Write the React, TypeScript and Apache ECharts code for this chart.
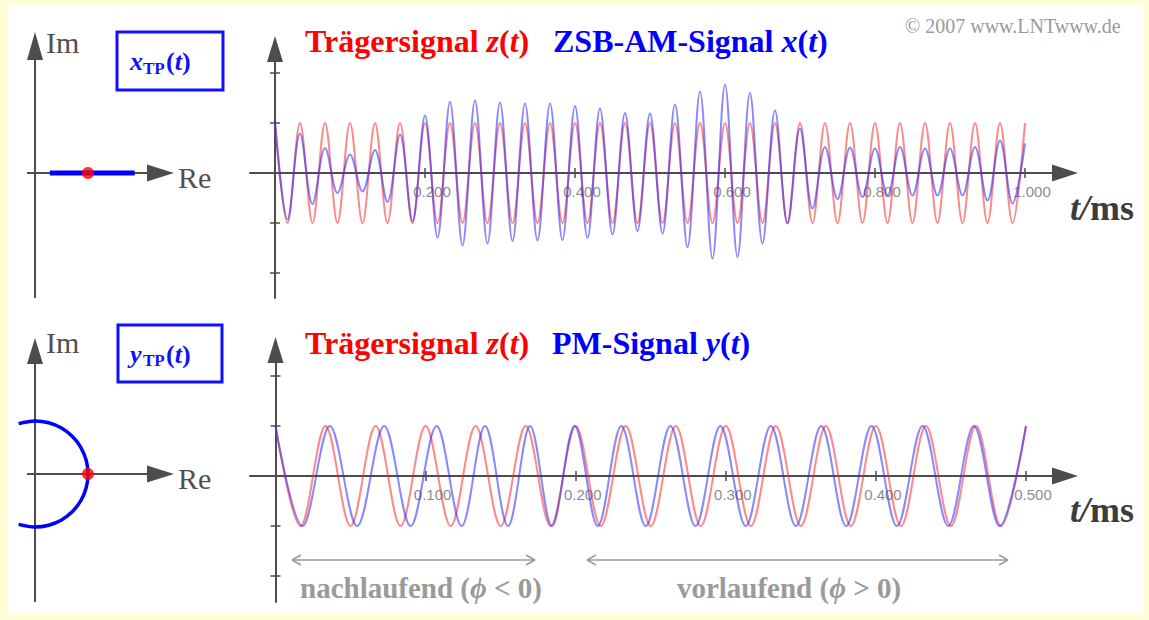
import React, { useEffect, useRef } from "react";
import * as echarts from "echarts";

// ---- data ----
// times (ms) of the extremes (peaks / troughs) of the 30 kHz carrier, top plot 0..1 ms
const amTimes = [
  0, 0.0167, 0.0333, 0.05, 0.0667, 0.0833, 0.1, 0.1167, 0.1333, 0.15, 0.1667, 0.1833,
  0.2, 0.2167, 0.2333, 0.25, 0.2667, 0.2833, 0.3, 0.3167, 0.3333, 0.35, 0.3667, 0.3833,
  0.4, 0.4167, 0.4333, 0.45, 0.4667, 0.4833, 0.5, 0.5167, 0.5333, 0.55, 0.5667, 0.5833,
  0.6, 0.6167, 0.6333, 0.65, 0.6667, 0.6833, 0.7, 0.7167, 0.7333, 0.75, 0.7667, 0.7833,
  0.8, 0.8167, 0.8333, 0.85, 0.8667, 0.8833, 0.9, 0.9167, 0.9333, 0.95, 0.9667, 0.9833, 1,
];
// carrier z(t) at those extremes
const carrierTop = [
  1, -1, 1, -1, 1, -1, 1, -1, 1, -1, 1, -1, 1, -1, 1, -1, 1, -1, 1, -1, 1, -1, 1, -1, 1, -1,
  1, -1, 1, -1, 1, -1, 1, -1, 1, -1, 1, -1, 1, -1, 1, -1, 1, -1, 1, -1, 1, -1, 1, -1, 1, -1,
  1, -1, 1, -1, 1, -1, 1, -1, 1,
];
// ZSB-AM signal x(t) at the same extremes
const amSignal = [
  1.05, -0.93, 0.79, -0.62, 0.5, -0.4, 0.37, -0.37, 0.46, -0.58, 0.77, -0.96, 1.15, -1.29,
  1.42, -1.45, 1.45, -1.41, 1.41, -1.36, 1.39, -1.35, 1.39, -1.34, 1.34, -1.3, 1.29, -1.23,
  1.2, -1.16, 1.19, -1.21, 1.37, -1.48, 1.63, -1.71, 1.77, -1.68, 1.6, -1.41, 1.25, -1.01,
  0.89, -0.71, 0.52, -0.52, 0.51, -0.48, 0.49, -0.45, 0.52, -0.45, 0.49, -0.45, 0.49, -0.45,
  0.52, -0.55, 0.65, -0.61, 0.59,
];
// bottom plot 0..0.5 ms: carrier extremes
const pmCarrierTimes = [
  0, 0.0167, 0.0333, 0.05, 0.0667, 0.0833, 0.1, 0.1167, 0.1333, 0.15, 0.1667, 0.1833,
  0.2, 0.2167, 0.2333, 0.25, 0.2667, 0.2833, 0.3, 0.3167, 0.3333, 0.35, 0.3667, 0.3833,
  0.4, 0.4167, 0.4333, 0.45, 0.4667, 0.4833, 0.5,
];
const carrierBottom = [
  1, -1, 1, -1, 1, -1, 1, -1, 1, -1, 1, -1, 1, -1, 1, -1, 1, -1, 1, -1, 1, -1, 1, -1, 1, -1,
  1, -1, 1, -1, 1,
];
// PM signal y(t): times of its extremes (lagging first, leading later)
const pmTimes = [
  0, 0.018, 0.0362, 0.0544, 0.0724, 0.09, 0.1073, 0.124, 0.1396, 0.1549, 0.1696, 0.1842,
  0.1993, 0.2147, 0.2304, 0.2467, 0.2631, 0.2798, 0.2964, 0.3133, 0.33, 0.3467, 0.3636,
  0.3802, 0.3971, 0.414, 0.4311, 0.4482, 0.4653, 0.4824, 0.5,
];
const pmSignal = [
  1, -1, 1, -1, 1, -1, 1, -1, 1, -1, 1, -1, 1, -1, 1, -1, 1, -1, 1, -1, 1, -1, 1, -1, 1, -1,
  1, -1, 1, -1, 1,
];
const xTopTicks = [0.2, 0.4, 0.6, 0.8, 1.0];
const xBottomTicks = [0.1, 0.2, 0.3, 0.4, 0.5];
const yTicks = [-2, -1, 1, 2];
// phasor diagrams
const amPhasorRe = [0.28, 1.88]; // range of x_TP(t) on the real axis
const pmPhaseAngles = [-108, -90, -75, -60, -45, -30, -15, 0, 15, 30, 45, 60, 75, 90, 108];
const pmPhasorRadius = 1;
const carrierPhasor = [1, 0]; // [radius, angle]

const SERIF = '"Liberation Serif", "Times New Roman", serif';
const SANS = '"Liberation Sans", Arial, sans-serif';
const AX = "#4d4d4d";
const RED = "rgba(255,40,40,0.55)";
const BLUE = "rgba(40,40,255,0.55)";

function zip(a: number[], b: number[]) {
  return a.map((v, i) => [v, b[i]]);
}

// x axes: main one (line, arrow, labels, downward ticks) + helper (upward ticks)
function timeAxes(gridIndex: number, min: number, max: number, ticks: number[], offBottom: number, offTop: number) {
  return [
    {
      type: "value", gridIndex, min, max, position: "bottom", offset: offBottom,
      axisLine: { show: true, onZero: false, symbol: ["none", "triangle"], symbolSize: [17, 26], lineStyle: { color: AX, width: 2 } },
      axisTick: { show: true, customValues: ticks, length: 5, lineStyle: { color: AX, width: 1.5 } },
      axisLabel: {
        show: true, customValues: ticks, formatter: (v: number) => v.toFixed(3),
        color: "#8c8c8c", fontSize: 15, fontFamily: SANS, margin: 11, padding: [0, 0, 0, 14],
      },
      splitLine: { show: false },
    },
    {
      type: "value", gridIndex, min, max, position: "top", offset: offTop,
      axisLine: { show: false, onZero: false },
      axisTick: { show: true, customValues: ticks, length: 5, lineStyle: { color: AX, width: 1.5 } },
      axisLabel: { show: false },
      splitLine: { show: false },
    },
  ];
}
function valueAxes(gridIndex: number, min: number, max: number, offLeft: number, offRight: number) {
  return [
    {
      type: "value", gridIndex, min, max, position: "left", offset: offLeft,
      axisLine: { show: true, onZero: false, symbol: ["none", "triangle"], symbolSize: [16, 26], lineStyle: { color: AX, width: 2 } },
      axisTick: { show: true, customValues: yTicks, length: 5, lineStyle: { color: AX, width: 1.5 } },
      axisLabel: { show: false },
      splitLine: { show: false },
    },
    {
      type: "value", gridIndex, min, max, position: "right", offset: offRight,
      axisLine: { show: false, onZero: false },
      axisTick: { show: true, customValues: yTicks, length: 5, lineStyle: { color: AX, width: 1.5 } },
      axisLabel: { show: false },
      splitLine: { show: false },
    },
  ];
}

function arrowV(x: number, tipY: number, baseY: number, hw: number) {
  return { type: "polygon", shape: { points: [[x, tipY], [x - hw, baseY], [x + hw, baseY]] }, style: { fill: AX } };
}
function arrowH(y: number, tipX: number, baseX: number, hh: number) {
  return { type: "polygon", shape: { points: [[tipX, y], [baseX, y - hh], [baseX, y + hh]] }, style: { fill: AX } };
}
function seg(x1: number, y1: number, x2: number, y2: number, color = AX, w = 2) {
  return { type: "line", shape: { x1, y1, x2, y2 }, style: { stroke: color, lineWidth: w } };
}
function text(x: number, y: number, t: string, rich: any, align = "left") {
  return { type: "text", x, y, z: 10, style: { text: t, rich, align, verticalAlign: "middle" } };
}

const richTitle = (color: string, size: number) => ({
  b: { fontFamily: SERIF, fontWeight: "bold", fontSize: size, fill: color, color },
  i: { fontFamily: SERIF, fontWeight: "bold", fontStyle: "italic", fontSize: size, fill: color, color },
});

function phasorLabel(left: number, baseY: number, letter: string) {
  const big = 26;
  const col = "#1010ff";
  const bi = { fontFamily: SERIF, fontWeight: "bold", fontStyle: "italic", fontSize: big, fill: col };
  const b = { fontFamily: SERIF, fontWeight: "bold", fontSize: big, fill: col };
  return [
    text(left, baseY - 8.8, "{i|" + letter + "}", { i: bi }),
    text(left + 13, baseY + 3.5 - 5.8, "{s|TP}", { s: { fontFamily: SERIF, fontWeight: "bold", fontSize: 17, fill: col } }),
    text(left + 36, baseY - 8.8, "{b|(}{i|t}{b|)}", { b, i: bi }),
  ];
}

function gArrow(x1: number, x2: number, y: number) {
  const c = "#9a9a9a";
  return [
    seg(x1, y, x2, y, c, 1.5),
    seg(x1, y, x1 + 9, y - 5, c, 1.5),
    seg(x1, y, x1 + 9, y + 5, c, 1.5),
    seg(x2, y, x2 - 9, y - 5, c, 1.5),
    seg(x2, y, x2 - 9, y + 5, c, 1.5),
  ];
}

export default function App() {
  const ref = useRef<HTMLDivElement>(null);
  useEffect(() => {
    document.body.style.margin = "0";
    const chart = echarts.init(ref.current!, null, { renderer: "svg" });
    const grayRich = {
      b: { fontFamily: SERIF, fontWeight: "bold", fontSize: 29, fill: "#9a9a9a" },
      i: { fontFamily: SERIF, fontWeight: "bold", fontStyle: "italic", fontSize: 29, fill: "#9a9a9a" },
    };
    const tmsRich = {
      i: { fontFamily: SERIF, fontWeight: "bold", fontStyle: "italic", fontSize: 36, fill: "#3c3c3c" },
      b: { fontFamily: SERIF, fontWeight: "bold", fontSize: 36, fill: "#3c3c3c" },
    };
    const option: any = {
      animation: false,
      backgroundColor: "#FFFFD6",
      grid: [
        { left: 250, top: 49, width: 815, height: 249 },
        { left: 250, top: 350, width: 815, height: 252 },
      ],
      xAxis: [
        ...timeAxes(0, -25 / 750, (1065 - 275) / 750, xTopTicks, -125, -124),
        ...timeAxes(1, -25.5 / 1501, (1065 - 275.5) / 1501, xBottomTicks, -126, -126),
      ],
      yAxis: [
        ...valueAxes(0, -2.5, 2.48, -25, -790),
        ...valueAxes(1, -2.52, 2.52, -25.5, -789.5),
      ],
      polar: [
        { center: [35, 173], radius: 132.5 },
        { center: [35, 474], radius: 132.5 },
      ],
      angleAxis: [
        { polarIndex: 0, type: "value", min: -180, max: 180, startAngle: 180, clockwise: false, show: false },
        { polarIndex: 1, type: "value", min: -180, max: 180, startAngle: 180, clockwise: false, show: false },
      ],
      radiusAxis: [
        { polarIndex: 0, type: "value", min: 0, max: 2.5, show: false },
        { polarIndex: 1, type: "value", min: 0, max: 2.5, show: false },
      ],
      series: [
        { type: "line", xAxisIndex: 0, yAxisIndex: 0, data: zip(amTimes, carrierTop), smooth: 0.35, showSymbol: false, lineStyle: { color: RED, width: 2 }, silent: true },
        { type: "line", xAxisIndex: 0, yAxisIndex: 0, data: zip(amTimes, amSignal), smooth: 0.35, showSymbol: false, lineStyle: { color: BLUE, width: 2 }, silent: true },
        { type: "line", xAxisIndex: 2, yAxisIndex: 2, data: zip(pmCarrierTimes, carrierBottom), smooth: 0.35, showSymbol: false, lineStyle: { color: RED, width: 2 }, silent: true },
        { type: "line", xAxisIndex: 2, yAxisIndex: 2, data: zip(pmTimes, pmSignal), smooth: 0.35, showSymbol: false, lineStyle: { color: BLUE, width: 2 }, silent: true },
        { type: "line", coordinateSystem: "polar", polarIndex: 0, data: amPhasorRe.map((r) => [r, 0]), showSymbol: false, lineStyle: { color: "#0000ff", width: 5 }, silent: true, z: 5 },
        { type: "scatter", coordinateSystem: "polar", polarIndex: 0, data: [carrierPhasor], symbolSize: 12, itemStyle: { color: "#ff0000" }, silent: true, z: 6 },
        { type: "line", coordinateSystem: "polar", polarIndex: 1, data: pmPhaseAngles.map((a) => [pmPhasorRadius, a]), smooth: 0.35, showSymbol: false, lineStyle: { color: "#0000ff", width: 3.5 }, silent: true, z: 5 },
        { type: "scatter", coordinateSystem: "polar", polarIndex: 1, data: [carrierPhasor], symbolSize: 12, itemStyle: { color: "#ff0000" }, silent: true, z: 6 },
      ],
      graphic: [
        { type: "rect", z: -1, shape: { x: 7, y: 5, width: 1136, height: 609 }, style: { fill: "#ffffff" } },
        // phasor axes (top)
        seg(35, 298, 35, 55), arrowV(35, 32, 60, 8),
        seg(27, 173, 150, 173), arrowH(173, 174, 147, 8.5),
        text(46, 42, "{a|Im}", { a: { fontFamily: SERIF, fontSize: 30, fill: "#505050" } }),
        text(178, 177, "{a|Re}", { a: { fontFamily: SERIF, fontSize: 30, fill: "#505050" } }),
        // phasor axes (bottom)
        seg(35, 602, 35, 360), arrowV(35, 338, 364, 8),
        seg(27, 474, 150, 474), arrowH(474, 174, 147, 8.5),
        text(46, 342, "{a|Im}", { a: { fontFamily: SERIF, fontSize: 30, fill: "#505050" } }),
        text(178, 478, "{a|Re}", { a: { fontFamily: SERIF, fontSize: 30, fill: "#505050" } }),
        // label boxes
        { type: "rect", shape: { x: 117, y: 32, width: 106, height: 58 }, style: { fill: "#fff", stroke: "#1010ff", lineWidth: 3 } },
        ...phasorLabel(130, 70.5, "x"),
        { type: "rect", shape: { x: 118, y: 325, width: 104, height: 57 }, style: { fill: "#fff", stroke: "#1010ff", lineWidth: 3 } },
        ...phasorLabel(130, 363, "y"),
        // titles
        text(305, 40.5, "{b|Trägersignal }{i|z}{b|(}{i|t}{b|)}", richTitle("#ff0000", 32)),
        text(553, 40.5, "{b|ZSB-AM-Signal }{i|x}{b|(}{i|t}{b|)}", richTitle("#0000ff", 32)),
        text(305, 342.5, "{b|Trägersignal }{i|z}{b|(}{i|t}{b|)}", richTitle("#ff0000", 32)),
        text(552, 342.5, "{b|PM-Signal }{i|y}{b|(}{i|t}{b|)}", richTitle("#0000ff", 32)),
        text(905, 26, "{a|© 2007 www.LNTwww.de}", { a: { fontFamily: SERIF, fontSize: 20, fill: "#9a9a9a" } }),
        // axis names
        text(1070, 208, "{i|t/}{b|ms}", tmsRich),
        text(1070, 510, "{i|t/}{b|ms}", tmsRich),
        // annotations
        ...gArrow(292, 535, 560),
        ...gArrow(587, 1008, 560),
        text(421, 588, "{b|nachlaufend (}{i|ϕ}{b| < 0)}", grayRich, "center"),
        text(789, 588, "{b|vorlaufend (}{i|ϕ}{b| > 0)}", grayRich, "center"),
      ],
    };
    chart.setOption(option);
    return () => chart.dispose();
  }, []);
  return <div ref={ref} style={{ width: 1149, height: 620 }} />;
}
